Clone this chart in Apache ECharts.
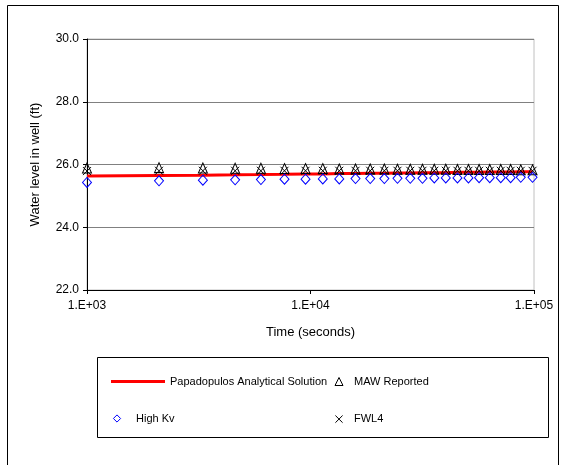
<!DOCTYPE html>
<html>
<head>
<meta charset="utf-8">
<script src="https://cdn.jsdelivr.net/npm/echarts@6/dist/echarts.min.js"></script>
<style>
html,body{margin:0;padding:0;background:#fff;}
#c{width:566px;height:465px;}
</style>
</head>
<body>
<div id="c"></div>
<script>
// Time (seconds)
var times = [1000, 2100, 3300, 4600, 6000, 7650, 9500, 11350, 13450, 15900, 18500, 21400, 24500, 27950, 31700, 35800, 40300, 45450, 50900, 56800, 63400, 71000, 78600, 87250, 98500];
// Papadopulos Analytical Solution
var papadopulos = [25.63, 25.65, 25.66, 25.67, 25.68, 25.69, 25.70, 25.70, 25.71, 25.71, 25.72, 25.72, 25.73, 25.73, 25.74, 25.74, 25.74, 25.75, 25.75, 25.75, 25.76, 25.76, 25.76, 25.77, 25.77];
// MAW Reported
var mawReported = [25.89, 25.90, 25.89, 25.88, 25.88, 25.87, 25.87, 25.87, 25.86, 25.86, 25.86, 25.86, 25.85, 25.85, 25.85, 25.85, 25.85, 25.84, 25.84, 25.84, 25.84, 25.84, 25.84, 25.83, 25.83];
// High Kv
var highKv = [25.43, 25.48, 25.50, 25.51, 25.52, 25.53, 25.53, 25.54, 25.54, 25.55, 25.55, 25.55, 25.56, 25.56, 25.56, 25.57, 25.57, 25.57, 25.57, 25.58, 25.58, 25.58, 25.58, 25.59, 25.59];
// FWL4
var fwl4 = [25.79, 25.80, 25.80, 25.80, 25.80, 25.80, 25.80, 25.80, 25.80, 25.80, 25.80, 25.80, 25.80, 25.80, 25.80, 25.80, 25.80, 25.80, 25.80, 25.80, 25.80, 25.80, 25.80, 25.80, 25.80];
// Axis ticks
var yTicks = [22, 24, 26, 28, 30];
var xTicks = [1000, 10000, 100000];

function pairs(ys){ return times.map(function(t,i){ return [t, ys[i]]; }); }

var FONT = 'Liberation Sans, Arial, sans-serif';
var crossPath = 'path://M0,0L10,10M10,0L0,10';
var legendText = {fontSize:11, color:'#000', fontFamily:FONT};

var chart = echarts.init(document.getElementById('c'), null, {renderer:'canvas'});
chart.setOption({
  animation:false,
  backgroundColor:'#fff',
  textStyle:{fontFamily:FONT},
  graphic:[
    {type:'rect', shape:{x:7.5, y:5.5, width:551, height:520}, style:{fill:'none', stroke:'#000', lineWidth:1}, z:-10},
    {type:'rect', shape:{x:97.5, y:357.5, width:451, height:80}, style:{fill:'none', stroke:'#000', lineWidth:1}, z:-10}
  ],
  grid:{left:87, right:32, top:39, bottom:175, show:true, borderColor:'#c0c0c0', borderWidth:1, backgroundColor:'transparent'},
  xAxis:{
    type:'log', logBase:10, min:xTicks[0], max:xTicks[xTicks.length-1],
    name:'Time (seconds)', nameLocation:'middle', nameGap:36,
    nameTextStyle:{fontSize:13, color:'#000', fontFamily:FONT},
    axisLine:{lineStyle:{color:'#000', width:1}},
    axisTick:{show:true, inside:false, length:4, lineStyle:{color:'#000'}},
    axisLabel:{fontSize:12, color:'#000', margin:10, fontFamily:FONT,
      formatter:function(v){ var e=Math.round(Math.log10(v)); return '1.E+' + (e<10?'0':'') + e; }},
    splitLine:{show:false}, minorTick:{show:false}, minorSplitLine:{show:false}
  },
  yAxis:{
    type:'value', min:yTicks[0], max:yTicks[yTicks.length-1], interval:2,
    name:'Water level in well (ft)', nameLocation:'middle', nameGap:45, nameRotate:90,
    nameTextStyle:{fontSize:13, color:'#000', fontFamily:FONT},
    axisLine:{show:true, lineStyle:{color:'#000', width:1}},
    axisTick:{show:true, inside:false, length:4, lineStyle:{color:'#000'}},
    axisLabel:{fontSize:12, color:'#000', margin:8, fontFamily:FONT, formatter:function(v){ return v.toFixed(1); }},
    splitLine:{show:true, lineStyle:{color:'#808080', width:1}}
  },
  legend:[
    {data:[{name:'Papadopulos Analytical Solution', icon:'rect', itemStyle:{color:'#ff0000', borderWidth:0}}],
      left:106, top:371, itemWidth:54, itemHeight:3, itemGap:0, selectedMode:false, textStyle:legendText},
    {data:[{name:'MAW Reported', itemStyle:{color:'rgba(0,0,0,0)', borderColor:'#000', borderWidth:1}}],
      left:324, top:371, itemWidth:20, itemHeight:10, selectedMode:false, textStyle:legendText},
    {data:[{name:'High Kv', itemStyle:{color:'rgba(0,0,0,0)', borderColor:'#0000ff', borderWidth:1}}],
      left:98, top:408, itemWidth:28, itemHeight:9, selectedMode:false, textStyle:legendText},
    {data:[{name:'FWL4', itemStyle:{color:'none', borderColor:'#000', borderWidth:1}}],
      left:324, top:408, itemWidth:20, itemHeight:9, selectedMode:false, textStyle:legendText}
  ],
  series:[
    {name:'Papadopulos Analytical Solution', type:'line', data:pairs(papadopulos), symbol:'none', smooth:false,
      lineStyle:{color:'#ff0000', width:3}, itemStyle:{color:'#ff0000'}, z:2},
    {name:'MAW Reported', type:'line', data:pairs(mawReported), symbol:'triangle', symbolSize:[9,10],
      lineStyle:{width:0, opacity:0}, itemStyle:{color:'rgba(0,0,0,0)', borderColor:'#000', borderWidth:1}, z:3},
    {name:'High Kv', type:'line', data:pairs(highKv), symbol:'diamond', symbolSize:[9,10],
      lineStyle:{width:0, opacity:0}, itemStyle:{color:'rgba(0,0,0,0)', borderColor:'#0000ff', borderWidth:1}, z:3},
    {name:'FWL4', type:'line', data:pairs(fwl4), symbol:crossPath, symbolSize:8,
      lineStyle:{width:0, opacity:0}, itemStyle:{color:'none', borderColor:'#000', borderWidth:1}, z:4}
  ]
});
</script>
</body>
</html>
